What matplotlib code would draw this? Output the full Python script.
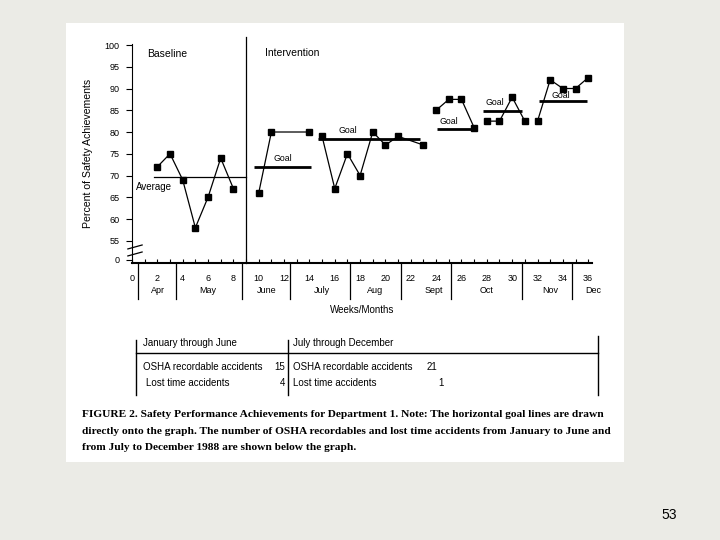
import matplotlib
matplotlib.use("Agg")
import matplotlib.pyplot as plt
from matplotlib.lines import Line2D
from matplotlib.patches import Rectangle

plt.rcParams['font.family'] = ['Liberation Sans', 'DejaVu Sans']

# data (week, percent of safety achievements)
segment_weeks = [
    [2, 3, 4, 5, 6, 7, 8],
    [10, 11, 14],
    [15, 16, 17, 18, 19, 20, 21, 23],
    [24, 25, 26, 27],
    [28, 29, 30, 31],
    [32, 33, 34, 35, 36],
]
segment_values = [
    [72, 75, 69, 58, 65, 74, 67],
    [66, 80, 80],
    [79, 67, 75, 70, 80, 77, 79, 77],
    [85, 87.5, 87.5, 81],
    [82.5, 82.5, 88, 82.5],
    [82.5, 92, 90, 90, 92.5],
]

baseline_average = 69.7
average_span = (1.7, 9.0)
phase_change_week = 9.0

goal_starts = [9.6, 14.7, 24.1, 27.7, 32.1]
goal_ends = [14.1, 22.7, 27.2, 30.8, 35.9]
goal_values = [72, 78.5, 80.6, 84.8, 87.1]

week_ticks = list(range(0, 37, 2))
y_ticks = [55, 60, 65, 70, 75, 80, 85, 90, 95, 100]

month_names = ['Apr', 'May', 'June', 'July', 'Aug', 'Sept', 'Oct', 'Nov', 'Dec']
month_centers = [2.05, 6.0, 10.6, 15.0, 19.2, 23.8, 28.0, 33.0, 36.4]
month_dividers = [0.5, 3.5, 8.7, 12.5, 17.2, 21.2, 25.2, 30.8, 34.7]

table_headers = ['January through June', 'July through December']
table_rows = ['OSHA recordable accidents', 'Lost time accidents']
first_half = [15, 4]
second_half = [21, 1]

caption_lines = [
    "FIGURE 2. Safety Performance Achievements for Department 1. Note: The horizontal goal lines are drawn",
    "directly onto the graph. The number of OSHA recordables and lost time accidents from January to June and",
    "from July to December 1988 are shown below the graph.",
]

W, H = 720, 540


def fx(x):
    return x / W


def fy(y):
    return 1 - y / H


fig = plt.figure(figsize=(7.2, 5.4), dpi=100)
fig.patch.set_facecolor('#ebebe6')
fig.add_artist(Rectangle((fx(66), fy(462)), (624 - 66) / W, (462 - 23) / H,
                         transform=fig.transFigure, facecolor='white',
                         edgecolor='none', zorder=0))

ax = fig.add_axes([fx(132), fy(262.5), (592 - 132) / W, (262.5 - 43.7) / H])
ax.set_facecolor('none')
ax.set_xlim(0, 36.3)
ax.set_ylim(50, 100.3)

# data series
for wk, vals in zip(segment_weeks, segment_values):
    ax.plot(wk, vals, color='black', lw=0.9, marker='s', ms=4.5,
            mfc='black', mec='black', zorder=3)

# goal lines
for x0, x1, g in zip(goal_starts, goal_ends, goal_values):
    ax.plot([x0, x1], [g, g], color='black', lw=2.0, solid_capstyle='butt', zorder=2)

# baseline average
ax.plot(average_span, [baseline_average] * 2, color='black', lw=0.9, zorder=2)

# phase change line
ax.plot([phase_change_week] * 2, [50, 101.8], color='black', lw=0.9, clip_on=False)

# annotations
ax.text(1.2, 97.9, 'Baseline', fontsize=7.5, va='center')
ax.text(10.5, 98.1, 'Intervention', fontsize=7.5, va='center')
ax.text(0.3, 67.4, 'Average', fontsize=7, va='center')
goal_label_x = [11.9, 17.0, 25.0, 28.65, 33.8]
goal_label_y = [74.0, 80.3, 82.5, 86.7, 88.3]
for gx, gy in zip(goal_label_x, goal_label_y):
    ax.text(gx, gy, 'Goal', fontsize=6.3, ha='center', va='center')

# axes styling
for side in ['top', 'right']:
    ax.spines[side].set_visible(False)
ax.spines['left'].set_linewidth(0.8)
ax.spines['bottom'].set_linewidth(1.5)

ax.set_yticks(y_ticks + [50.6])
ax.set_yticklabels([str(v) for v in y_ticks] + ['0'], fontsize=6.5)
ax.tick_params(axis='y', direction='out', length=4, width=0.8, pad=5)

ax.set_xticks(week_ticks)
ax.set_xticklabels([str(w) for w in week_ticks], fontsize=6.5)
ax.set_xticks(range(0, 37), minor=True)
ax.tick_params(axis='x', which='both', direction='in', length=3, width=0.8, pad=8)

ax.set_ylabel('Percent of Safety Achievements', fontsize=7.6, labelpad=8)
ax.set_xlabel('Weeks/Months', fontsize=7, labelpad=16)

# axis break marks
for yb in (0.03, 0.062):
    ax.plot([-0.009, 0.022], [yb, yb + 0.018], color='black', lw=0.9,
            transform=ax.transAxes, clip_on=False)

# month labels and dividers below the axis
xt = ax.get_xaxis_transform()
for name, mc in zip(month_names, month_centers):
    ax.annotate(name, xy=(mc, 0), xycoords=xt, xytext=(0, -20.5),
                textcoords='offset points', ha='center', va='center', fontsize=6.5)
for md in month_dividers:
    ax.plot([md, md], [0, -0.167], color='black', lw=0.9, transform=xt, clip_on=False)

# accident table below the graph
tbl_lines = [
    ((136, 598), (353, 353)),
    ((136, 136), (340, 395)),
    ((288, 288), (340, 395)),
    ((598, 598), (336, 395)),
]
for xs, ys in tbl_lines:
    fig.add_artist(Line2D([fx(v) for v in xs], [fy(v) for v in ys],
                          transform=fig.transFigure, color='black', lw=1.0))

fig.text(fx(142.7), fy(343.3), table_headers[0], fontsize=7, va='center')
fig.text(fx(293.3), fy(342.7), table_headers[1], fontsize=7, va='center')
row_y = [366.7, 382.7]
row_x = [142.7, 146]
for label, n1, n2, ry, rx in zip(table_rows, first_half, second_half, row_y, row_x):
    fig.text(fx(rx), fy(ry), label, fontsize=7, va='center')
    fig.text(fx(285), fy(ry), str(n1), fontsize=7, va='center', ha='right')
    fig.text(fx(293.3), fy(ry), label, fontsize=7, va='center')
fig.text(fx(426.7), fy(366.7), str(second_half[0]), fontsize=7, va='center')
fig.text(fx(438.3), fy(382.7), str(second_half[1]), fontsize=7, va='center')

# caption
caption_y = [414.5, 431, 447]
for line, cy in zip(caption_lines, caption_y):
    fig.text(fx(81.5), fy(cy), line, fontsize=8.2, va='center',
             family='Liberation Serif', weight='bold')

# slide number
fig.text(fx(669), fy(515), '53', fontsize=10, ha='center', va='center')

fig.savefig('out.png', dpi=100, facecolor=fig.get_facecolor())
